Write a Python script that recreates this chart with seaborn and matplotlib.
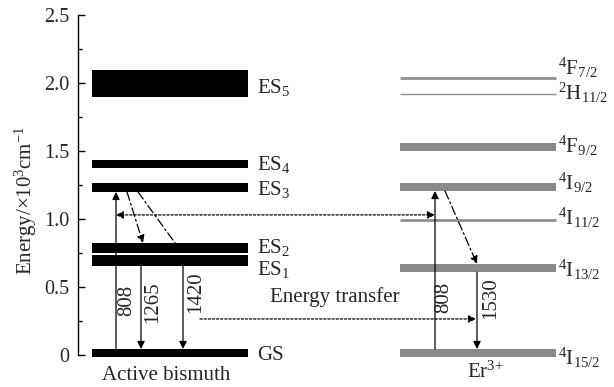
import matplotlib
matplotlib.use("Agg")
import matplotlib.pyplot as plt
import seaborn as sns

# ---------------- data (energy in 10^3 cm^-1) ----------------
bi_names = ["GS", "ES$_1$", "ES$_2$", "ES$_3$", "ES$_4$", "ES$_5$"]
bi_low = [-0.015, 0.654, 0.750, 1.199, 1.375, 1.897]
bi_high = [0.044, 0.735, 0.824, 1.265, 1.434, 2.096]
bi_label_base = [-0.037, 0.585, 0.75, 1.176, 1.36, 1.926]

er_band_names = ["$^4$I$_{15/2}$", "$^4$I$_{13/2}$", "$^4$I$_{9/2}$", "$^4$F$_{9/2}$"]
er_band_low = [-0.015, 0.61, 1.206, 1.50]
er_band_high = [0.044, 0.67, 1.265, 1.56]
er_band_label_base = [-0.074, 0.574, 1.213, 1.49]

er_line_names = ["$^4$I$_{11/2}$", "$^2$H$_{11/2}$", "$^4$F$_{7/2}$"]
er_line_energy = [0.99, 1.92, 2.04]
er_line_width = [2.0, 1.0, 2.0]
er_line_label_base = [0.956, 1.875, 2.06]

wavelengths = ["808", "1265", "1420", "808", "1530"]
yticks = [0, 0.5, 1.0, 1.5, 2.0, 2.5]
ytick_labels = ["0", "0.5", "1.0", "1.5", "2.0", "2.5"]

# ---------------- style ----------------
sns.set_theme(style="white")
plt.rcParams["font.family"] = ["Liberation Serif", "DejaVu Serif"]
plt.rcParams["mathtext.fontset"] = "custom"
plt.rcParams["mathtext.rm"] = "Liberation Serif"
plt.rcParams["mathtext.it"] = "Liberation Serif"
plt.rcParams["mathtext.default"] = "regular"

FS = 15
fig = plt.figure(figsize=(6.14, 3.87), dpi=100)
ax = fig.add_axes([78 / 614, 32 / 387, 536 / 614, 340 / 387])
ax.set_xlim(78, 614)
ax.set_ylim(0, 2.5)

# layout (x positions)
BI_L, BI_R = 92, 248
ER_L, ER_R = 400, 556
BI_LABEL_X = 257
ER_LABEL_X = 558
black = "#000000"
gray = "#8a8a8a"

# bismuth levels
for lo, hi, name, yb in zip(bi_low, bi_high, bi_names, bi_label_base):
    ax.bar((BI_L + BI_R) / 2, hi - lo, bottom=lo, width=BI_R - BI_L,
           color=black, edgecolor="none", clip_on=False, zorder=3)
    ax.text(BI_LABEL_X, yb, name, fontsize=FS, va="baseline", ha="left", clip_on=False)

# erbium bands
for lo, hi, name, yb in zip(er_band_low, er_band_high, er_band_names, er_band_label_base):
    ax.bar((ER_L + ER_R) / 2, hi - lo, bottom=lo, width=ER_R - ER_L,
           color=gray, edgecolor="none", clip_on=False, zorder=3)
    ax.text(ER_LABEL_X, yb, name, fontsize=FS, va="baseline", ha="left", clip_on=False)

for e, lw, name, yb in zip(er_line_energy, er_line_width, er_line_names, er_line_label_base):
    ax.hlines(e, ER_L, ER_R, color="#909090", lw=lw, zorder=3)
    ax.text(ER_LABEL_X, yb, name, fontsize=FS, va="baseline", ha="left", clip_on=False)


def arrow(x0, y0, x1, y1, ls="-", head=True, both=False):
    style = "<|-|>" if both else ("-|>" if head else "-")
    ax.annotate("", xy=(x1, y1), xytext=(x0, y0),
                arrowprops=dict(arrowstyle=style, color="black", lw=0.9,
                                linestyle=ls, mutation_scale=11,
                                shrinkA=0, shrinkB=0),
                zorder=4, annotation_clip=False)


dashdot = (0, (7, 2.5, 1.5, 2.5))
dotted = (0, (1.8, 1.5))

# bismuth transitions
arrow(116, bi_high[0], 116, bi_low[3])                 # 808 excitation
arrow(141, bi_low[1], 141, bi_high[0])                 # 1265 emission
arrow(183, bi_low[1], 183, bi_high[0])                 # 1420 emission
arrow(127, bi_low[3], 143, bi_high[2], ls=dashdot)     # relaxation
arrow(138, bi_low[3], 175, bi_high[2], ls=dashdot, head=False)

# erbium transitions
arrow(435, er_band_high[0], 435, er_band_low[2])       # 808 excitation
arrow(477, er_band_low[1], 477, er_band_high[0])       # 1530 emission
arrow(445, er_band_low[2], 477, er_band_high[1], ls=dashdot)

# energy transfer
arrow(116, 1.03, 435, 1.03, ls=dotted, both=True)
arrow(200, 0.265, 476, 0.265, ls=dotted)

# wavelength labels
wl_x = [127, 153, 196, 444, 491]
wl_y = [0.40, 0.39, 0.46, 0.42, 0.42]
for x, y, t in zip(wl_x, wl_y, wavelengths):
    ax.text(x, y, t, rotation=90, fontsize=FS, ha="center", va="center", zorder=5)

ax.text(335, 0.39, "Energy transfer", fontsize=FS, ha="center", va="baseline")
ax.text(166, -0.184, "Active bismuth", fontsize=FS, ha="center", va="baseline", clip_on=False)
ax.text(485, -0.17, "Er$^{3{+}}$", fontsize=FS, ha="center", va="baseline", clip_on=False)

# axes styling
for s in ["top", "right", "bottom"]:
    ax.spines[s].set_visible(False)
ax.spines["left"].set_color("black")
ax.spines["left"].set_linewidth(1.0)
ax.set_xticks([])
ax.set_yticks(yticks)
ax.set_yticklabels(ytick_labels)
ax.set_yticks([0.25, 0.75, 1.25, 1.75, 2.25], minor=True)
ax.tick_params(axis="y", which="major", direction="in", length=5, width=1,
               labelsize=14.5, pad=6, color="black", left=True)
ax.tick_params(axis="y", which="minor", direction="in", length=3, width=1,
               color="black", left=True)
ax.set_ylabel("Energy/×10$^3$cm$^{-1}$", fontsize=FS)
ax.yaxis.set_label_coords(-0.072, 0.455)
ax.set_facecolor("white")
fig.patch.set_facecolor("white")

fig.savefig("out.png", dpi=100)
